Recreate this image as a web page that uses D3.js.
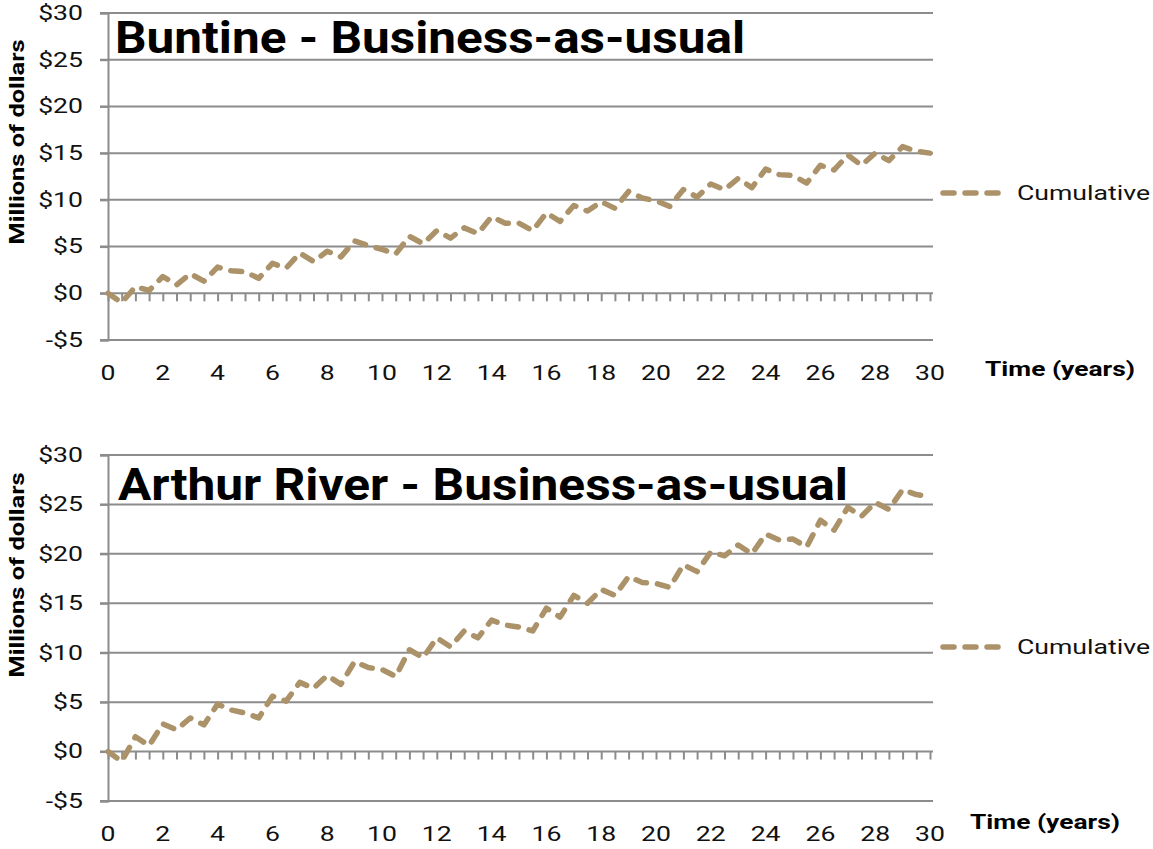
<!DOCTYPE html>
<html>
<head>
<meta charset="utf-8">
<script src="https://cdn.jsdelivr.net/npm/d3@7"></script>
<style>
  body { margin: 0; background: #fff; }
  svg { display: block; font-family: Roboto, "Open Sans", sans-serif; }
</style>
</head>
<body>
<svg id="chart" width="1153" height="849"></svg>
<script>
// time in years (half-year steps)
const years = [0, 0.5, 1, 1.5, 2, 2.5, 3, 3.5, 4, 4.5, 5, 5.5, 6, 6.5, 7, 7.5, 8, 8.5, 9, 9.5,
  10, 10.5, 11, 11.5, 12, 12.5, 13, 13.5, 14, 14.5, 15, 15.5, 16, 16.5, 17, 17.5, 18, 18.5, 19, 19.5,
  20, 20.5, 21, 21.5, 22, 22.5, 23, 23.5, 24, 24.5, 25, 25.5, 26, 26.5, 27, 27.5, 28, 28.5, 29, 29.5, 30];

// cumulative, millions of dollars
const buntine = [0, -1.0, 0.7, 0.3, 1.8, 0.9, 2.1, 1.3, 2.8, 2.4, 2.3, 1.6, 3.2, 2.7, 4.3, 3.4, 4.5, 3.9, 5.6, 5.1,
  4.7, 4.2, 6.1, 5.3, 6.7, 5.9, 7.0, 6.4, 8.2, 7.5, 7.5, 6.7, 8.6, 7.7, 9.4, 8.8, 9.8, 9.1, 10.9, 10.2,
  9.9, 9.3, 11.1, 10.3, 11.7, 11.1, 12.3, 11.3, 13.3, 12.7, 12.6, 11.8, 13.7, 13.2, 14.8, 13.7, 15.0, 14.2, 15.7, 15.2, 15.0];

const arthur = [0, -1.0, 1.5, 0.6, 2.8, 2.2, 3.4, 2.7, 4.8, 4.2, 3.9, 3.4, 5.6, 5.1, 7.0, 6.4, 7.7, 6.8, 9.1, 8.5,
  8.3, 7.6, 10.3, 9.5, 11.5, 10.6, 12.2, 11.5, 13.3, 12.8, 12.6, 12.2, 14.5, 13.6, 15.8, 15.0, 16.4, 15.8, 17.7, 17.1,
  17.0, 16.6, 18.9, 18.2, 20.2, 19.8, 20.9, 20.0, 22.0, 21.4, 21.5, 20.7, 23.4, 22.4, 24.7, 23.8, 25.2, 24.5, 26.5, 26.0, 25.8];

const yTicks = [-5, 0, 5, 10, 15, 20, 25, 30];
const xLabels = [0, 2, 4, 6, 8, 10, 12, 14, 16, 18, 20, 22, 24, 26, 28, 30];

const titles = ["Buntine - Business-as-usual", "Arthur River - Business-as-usual"];
const seriesName = "Cumulative";

const lineColor = "#ab9268";
const gridColor = "#8c8c8c";
const textColor = "#111";
const wide = 1.33; // the original font is wider than Roboto

const svg = d3.select("#chart");

// widen text horizontally to match the original typeface
function stretch(sel, f) {
  sel.each(function () {
    const w = this.getComputedTextLength();
    d3.select(this).attr("textLength", w * f).attr("lengthAdjust", "spacingAndGlyphs");
  });
}

const panels = [
  { title: titles[0], values: buntine, top: 13, bottom: 340, titleX: 115, titleY: 53, titleW: 630,
    yTitleY: 142, legendY: 193, timeX: 985, timeY: 369 },
  { title: titles[1], values: arthur, top: 455, bottom: 801, titleX: 118, titleY: 500, titleW: 730,
    yTitleY: 575, legendY: 647, timeX: 970, timeY: 822 }
];

const x = d3.scaleLinear().domain([0, 30]).range([108, 930]);

panels.forEach(function (p) {
  const y = d3.scaleLinear().domain([-5, 30]).range([p.bottom, p.top]);
  const g = svg.append("g");

  // horizontal gridlines
  g.append("g").selectAll("line")
    .data(yTicks)
    .enter().append("line")
    .attr("x1", 100).attr("x2", 933)
    .attr("y1", d => y(d)).attr("y2", d => y(d))
    .attr("stroke", gridColor).attr("stroke-width", 2);

  // y axis
  const yAxis = g.append("g")
    .attr("transform", "translate(108,0)")
    .call(d3.axisLeft(y).tickValues(yTicks).tickSize(8).tickPadding(17)
      .tickFormat(d => d < 0 ? "-$" + Math.abs(d) : "$" + d));
  yAxis.select(".domain").attr("stroke", gridColor).attr("stroke-width", 2);
  yAxis.selectAll(".tick line").attr("stroke", gridColor).attr("stroke-width", 2);
  yAxis.selectAll("text").attr("fill", textColor).style("font-size", "20px")
    .style("font-family", "Roboto, sans-serif")
    .call(stretch, wide);

  // x axis at zero with half-year ticks
  const xAxis = g.append("g")
    .attr("transform", "translate(0," + y(0) + ")")
    .call(d3.axisBottom(x).tickValues(years).tickSize(8).tickFormat(""));
  xAxis.select(".domain").remove();
  xAxis.selectAll(".tick line").attr("stroke", gridColor).attr("stroke-width", 2);

  // x labels below plot
  g.append("g").selectAll("text")
    .data(xLabels)
    .enter().append("text")
    .attr("x", d => x(d))
    .attr("y", p.bottom + 40)
    .attr("text-anchor", "middle")
    .attr("fill", textColor)
    .style("font-size", "20px")
    .text(d => d)
    .call(stretch, wide);

  // line
  const line = d3.line()
    .x((d, i) => x(years[i]))
    .y(d => y(d));

  g.append("path")
    .datum(p.values)
    .attr("fill", "none")
    .attr("stroke", lineColor)
    .attr("stroke-width", 5.5)
    .attr("stroke-linecap", "round")
    .attr("stroke-linejoin", "round")
    .attr("stroke-dasharray", "11,11")
    .attr("d", line);

  // title
  const t = g.append("text")
    .attr("x", p.titleX)
    .attr("y", p.titleY)
    .attr("fill", "#000")
    .style("font-size", "44px")
    .style("font-weight", "bold")
    .text(p.title);
  t.attr("textLength", p.titleW).attr("lengthAdjust", "spacingAndGlyphs");

  // y title
  g.append("text")
    .attr("transform", "translate(24," + p.yTitleY + ") rotate(-90)")
    .attr("text-anchor", "middle")
    .attr("fill", "#000")
    .style("font-size", "20px")
    .style("font-weight", "bold")
    .text("Millions of dollars")
    .attr("textLength", 205).attr("lengthAdjust", "spacingAndGlyphs");

  // x title
  g.append("text")
    .attr("x", p.timeX)
    .attr("y", p.timeY + 7)
    .attr("fill", "#000")
    .style("font-size", "20px")
    .style("font-weight", "bold")
    .text("Time (years)")
    .attr("textLength", 150).attr("lengthAdjust", "spacingAndGlyphs");

  // legend
  g.append("line")
    .attr("x1", 943).attr("x2", 1000)
    .attr("y1", p.legendY).attr("y2", p.legendY)
    .attr("stroke", lineColor)
    .attr("stroke-width", 5.5)
    .attr("stroke-linecap", "round")
    .attr("stroke-dasharray", "11,11");
  g.append("text")
    .attr("x", 1017)
    .attr("y", p.legendY + 7)
    .attr("fill", textColor)
    .style("font-size", "20px")
    .text(seriesName)
    .attr("textLength", 133).attr("lengthAdjust", "spacingAndGlyphs");
});
</script>
</body>
</html>
